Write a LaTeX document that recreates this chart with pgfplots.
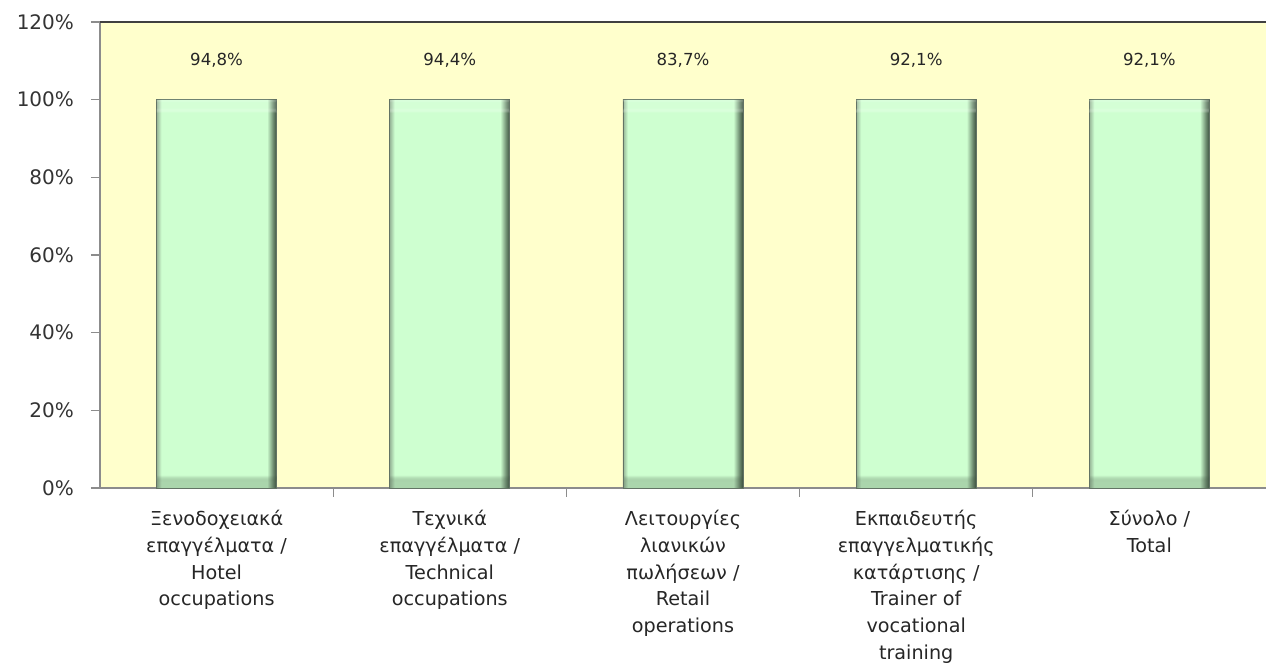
\documentclass[border=0pt]{standalone}
\usepackage{fontspec}
\setmainfont{DejaVu Sans}
\usepackage{pgfplots}
\pgfplotsset{compat=1.18}
\usetikzlibrary{fadings}
\definecolor{bgY}{RGB}{255,255,204}
\definecolor{barG}{RGB}{206,255,208}
\definecolor{barL}{RGB}{150,180,150}
\definecolor{barD}{RGB}{60,80,62}
\definecolor{barD1}{RGB}{110,140,112}
\definecolor{axgray}{RGB}{140,140,140}
\pgfdeclarehorizontalshading{barshade}{100bp}{color(0bp)=(barL); color(25bp)=(barL); color(27bp)=(barG); color(71bp)=(barG); color(73.5bp)=(barD1); color(75bp)=(barD); color(100bp)=(barD)}
\pgfdeclareverticalshading{bevtopshade}{100bp}{color(0bp)=(black); color(73.2bp)=(black); color(73.8bp)=(white); color(74.6bp)=(white); color(75bp)=(black); color(100bp)=(black)}
\pgfdeclarefading{bevtop}{\pgfuseshading{bevtopshade}}
\pgfdeclareverticalshading{bevbotshade}{100bp}{color(0bp)=(black); color(25bp)=(white); color(26bp)=(white); color(26.8bp)=(black); color(100bp)=(black)}
\pgfdeclarefading{bevbot}{\pgfuseshading{bevbotshade}}
\pgfplotsset{barstyle/.style={ybar, bar shift=0pt, draw=barD!80, line width=0.4pt, shading=barshade,
  postaction={fill=white, fill opacity=0.85, path fading=bevtop},
  postaction={fill=barD, fill opacity=0.6, path fading=bevbot}}}
\begin{document}
\begin{tikzpicture}
\useasboundingbox (0,0) rectangle (633pt,332pt);
\begin{axis}[
  at={(50pt,88pt)}, anchor=south west,
  scale only axis, width=583pt, height=233pt,
  xmin=-0.5, xmax=4.5, ymin=0, ymax=120,
  axis background/.style={fill=bgY},
  axis x line=bottom, axis y line=left,
  axis line style={-, draw=axgray, line width=0.6pt},
  tick align=outside,
  ytick={0,20,...,120},
  yticklabel={\pgfmathprintnumber{\tick}\%},
  /pgf/number format/assume math mode=true,
  yticklabel style={font=\fontsize{10}{12}\selectfont, text=black!80, xshift=-5pt},
  major tick length=4.5pt,
  tick style={draw=axgray, line width=0.6pt},
  xtick={0,1,2,3,4},
  major x tick style={draw=none},
  minor xtick={0.5,1.5,2.5,3.5},
  minor tick length=4.5pt,
  minor x tick style={draw=axgray, line width=0.6pt},
  xticklabels={
    {Ξενοδοχειακά\\επαγγέλματα /\\Hotel\\occupations},
    {Τεχνικά\\επαγγέλματα /\\Technical\\occupations},
    {Λειτουργίες\\λιανικών\\πωλήσεων /\\Retail\\operations},
    {Εκπαιδευτής\\επαγγελματικής\\κατάρτισης /\\Trainer of\\vocational\\training},
    {Σύνολο /\\Total}},
  xticklabel style={font=\fontsize{9.6}{13.4}\selectfont, align=center, text=black!85, yshift=-3pt},
  bar width=60pt,
  nodes near coords,
  point meta=explicit symbolic,
  every node near coord/.append style={font=\fontsize{8.3}{10}\selectfont, text=black!85, anchor=center, yshift=19.5pt},
  clip=false,
]
\addplot[barstyle] coordinates {(0,100) [94,8\%]};
\addplot[barstyle] coordinates {(1,100) [94,4\%]};
\addplot[barstyle] coordinates {(2,100) [83,7\%]};
\addplot[barstyle] coordinates {(3,100) [92,1\%]};
\addplot[barstyle] coordinates {(4,100) [92,1\%]};
\draw[line width=1.3pt, draw=black!75] (rel axis cs:0,1) -- (rel axis cs:1,1);
\end{axis}
\end{tikzpicture}
\end{document}
